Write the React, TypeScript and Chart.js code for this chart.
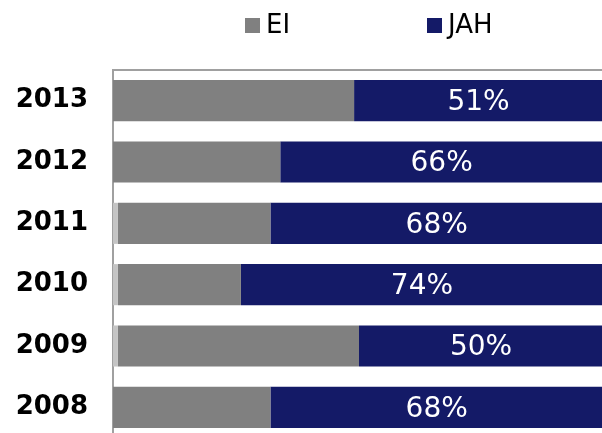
import React, { useEffect, useRef } from "react";
import { Chart, registerables } from "chart.js";

Chart.register(...registerables);

const categories = ["2013", "2012", "2011", "2010", "2009", "2008"];
const otherValues = [0, 0, 1, 1, 1, 0];
const eiValues = [49, 34, 31, 25, 49, 32];
const jahValues = [51, 66, 68, 74, 50, 68];
const jahLabels = ["51%", "66%", "68%", "74%", "50%", "68%"];
const legendNames = ["EI", "JAH"];

const GRAY = "#808080";
const NAVY = "#141a67";
const LIGHT = "#c4c4c4";

export default function App() {
  const ref = useRef<HTMLCanvasElement>(null);
  useEffect(() => {
    document.body.style.overflow = "hidden";
    const labelPlugin = {
      id: "labels",
      afterDatasetsDraw(chart: any) {
        const ctx = chart.ctx;
        const xs = chart.scales.x;
        const meta = chart.getDatasetMeta(2);
        ctx.save();
        ctx.fillStyle = "#ffffff";
        ctx.font = "28px 'DejaVu Sans'";
        ctx.textAlign = "center";
        ctx.textBaseline = "middle";
        meta.data.forEach((bar: any, i: number) => {
          const start = otherValues[i] + eiValues[i];
          const end = start + jahValues[i];
          const cx = (xs.getPixelForValue(start) + xs.getPixelForValue(end)) / 2;
          ctx.fillText(jahLabels[i], cx - 1, bar.y + 2);
        });
        ctx.restore();
      },
      afterDraw(chart: any) {
        const ctx = chart.ctx;
        ctx.save();
        ctx.font = "26px 'DejaVu Sans'";
        ctx.textBaseline = "middle";
        ctx.textAlign = "left";
        const items = [
          { name: legendNames[0], color: GRAY, x: 245 },
          { name: legendNames[1], color: NAVY, x: 427 },
        ];
        items.forEach((it) => {
          ctx.fillStyle = it.color;
          ctx.fillRect(it.x, 18, 15, 15);
          ctx.fillStyle = "#000000";
          ctx.fillText(it.name, it.x + 21, 26);
        });
        ctx.restore();
      },
    };
    const chart = new Chart(ref.current!, {
      type: "bar",
      data: {
        labels: categories,
        datasets: [
          { label: "Other", data: otherValues, backgroundColor: LIGHT },
          { label: "EI", data: eiValues, backgroundColor: GRAY },
          { label: "JAH", data: jahValues, backgroundColor: NAVY },
        ],
      },
      options: {
        indexAxis: "y",
        responsive: false,
        maintainAspectRatio: false,
        animation: false,
        layout: { padding: { top: 70, left: 0, right: 0, bottom: 0 } },
        datasets: { bar: { barPercentage: 0.67, categoryPercentage: 1, borderWidth: 0 } },
        plugins: { legend: { display: false }, tooltip: { enabled: false } },
        scales: {
          x: {
            stacked: true,
            position: "top",
            min: 0,
            max: 100,
            ticks: { display: false },
            grid: { display: false, drawTicks: false },
            border: { display: true, color: "#a0a0a0", width: 2 },
            afterFit: (s: any) => { s.height = 0; },
          },
          y: {
            stacked: true,
            ticks: {
              color: "#000000",
              padding: 25,
              font: { family: "'DejaVu Sans'", size: 26, weight: "bold" },
            },
            grid: { display: false, drawTicks: false },
            border: { display: true, color: "#a0a0a0", width: 2 },
            afterFit: (s: any) => {
              s.width = 113;
              s.paddingTop = 0;
              s.paddingBottom = 0;
            },
          },
        },
      },
      plugins: [labelPlugin],
    } as any);
    return () => chart.destroy();
  }, []);
  return (
    <div style={{ position: "fixed", left: 0, top: 0, width: 605, height: 438, background: "#fff" }}>
      <canvas ref={ref} width={605} height={438} style={{ display: "block", width: 605, height: 438 }} />
    </div>
  );
}
